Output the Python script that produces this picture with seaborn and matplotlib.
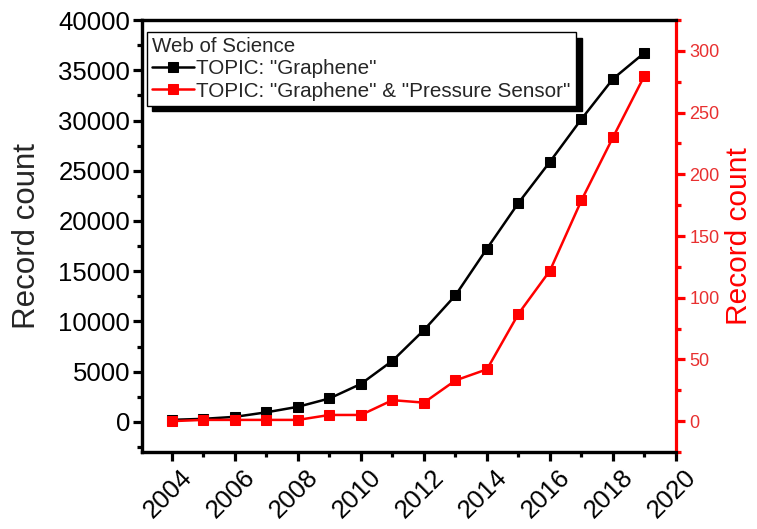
import matplotlib
matplotlib.use("Agg")
import matplotlib.pyplot as plt
import matplotlib.transforms as mtransforms
import seaborn as sns
import pandas as pd
from matplotlib.ticker import MultipleLocator

# Web of Science record counts per year
years = [2004, 2005, 2006, 2007, 2008, 2009, 2010, 2011, 2012,
	2013, 2014, 2015, 2016, 2017, 2018, 2019]
graphene = [200, 300, 500, 950, 1500, 2330, 3780, 6080, 9140,
	12600, 17250, 21800, 25900, 30150, 34150, 36750]
sensor = [0, 1, 1, 1, 1, 5, 5, 17, 15, 33, 42, 87, 122, 179, 230, 280]
xtick_years = [2004, 2006, 2008, 2010, 2012, 2014, 2016, 2018, 2020]

label_g = 'TOPIC: "Graphene"'
label_s = 'TOPIC: "Graphene" & "Pressure Sensor"'

df = pd.DataFrame({"year": years, "graphene": graphene, "sensor": sensor})

sns.set_style("ticks")
plt.rcParams["font.family"] = ["Liberation Sans", "DejaVu Sans"]

fig = plt.figure(figsize = (7.57, 5.29), dpi = 100)
ax = fig.add_axes([0.1876, 0.1456, 0.7054, 0.8164])
ax2 = ax.twinx()

sns.lineplot(data = df, x = "year", y = "graphene", ax = ax, color = "black",
	marker = "s", markersize = 6.8, markeredgecolor = "black", linewidth = 1.8, label = label_g, legend = False)
sns.lineplot(data = df, x = "year", y = "sensor", ax = ax2, color = "red",
	marker = "s", markersize = 7.3, markeredgecolor = "red", linewidth = 1.8, label = label_s, legend = False)

ax.set_xlim(2003.05, 2020)
ax.set_ylim(-3000, 40000)
ax2.set_ylim(-25, 325)

ax.xaxis.set_major_locator(MultipleLocator(2))
ax.xaxis.set_minor_locator(MultipleLocator(1))
ax.yaxis.set_major_locator(MultipleLocator(5000))
ax.yaxis.set_minor_locator(MultipleLocator(2500))
ax2.yaxis.set_major_locator(MultipleLocator(50))
ax2.yaxis.set_minor_locator(MultipleLocator(25))

for a in (ax, ax2):
	for s in a.spines.values():
		s.set_linewidth(2.3)
		s.set_color("black")
ax2.spines["right"].set_color("red")
ax.spines["right"].set_visible(False)

ax.tick_params(axis = "both", which = "major", direction = "out", length = 6.5, width = 2.3,
	labelsize = 18.5, colors = "black", pad = 2)
ax.tick_params(axis = "both", which = "minor", direction = "out", length = 3.8, width = 2.3, colors = "black")
ax.tick_params(axis = "y", which = "both", right = False)
ax2.tick_params(axis = "y", which = "major", direction = "out", length = 6.5, width = 2.3,
	labelsize = 13, colors = "red", labelcolor = "#e83030", pad = 3)
ax2.tick_params(axis = "y", which = "minor", direction = "out", length = 3.8, width = 2.3, colors = "red")

ax.set_xticks(xtick_years)
ax.set_xticklabels([str(y) for y in xtick_years], rotation = 45,
	ha = "right", va = "top", rotation_mode = "anchor")
shift = mtransforms.ScaledTranslation(0.08, -0.01, fig.dpi_scale_trans)
for lab in ax.get_xticklabels():
	lab.set_transform(lab.get_transform() + shift)

ax.set_xlabel("")
ax.set_ylabel("Record count", fontsize = 22.5, labelpad = 12)
ax2.set_ylabel("Record count", fontsize = 21.5, color = "red", labelpad = 4)

handles = ax.get_lines()[:1] + ax2.get_lines()[:1]
leg = ax2.legend(handles, [label_g, label_s], title = "Web of Science", loc = "upper left",
	bbox_to_anchor = (0.009, 0.972), borderaxespad = 0, fontsize = 14.9, title_fontsize = 14.8,
	alignment = "left", frameon = True, fancybox = False, edgecolor = "black",
	handlelength = 2.05, handletextpad = 0.1, borderpad = 0.25, labelspacing = 0.15,
	shadow = {"color": "black", "alpha": 1, "ox": 4, "oy": -4})
leg.get_frame().set_linewidth(1)
leg.get_frame().set_alpha(1)

plt.savefig("out.png", dpi = 100)
